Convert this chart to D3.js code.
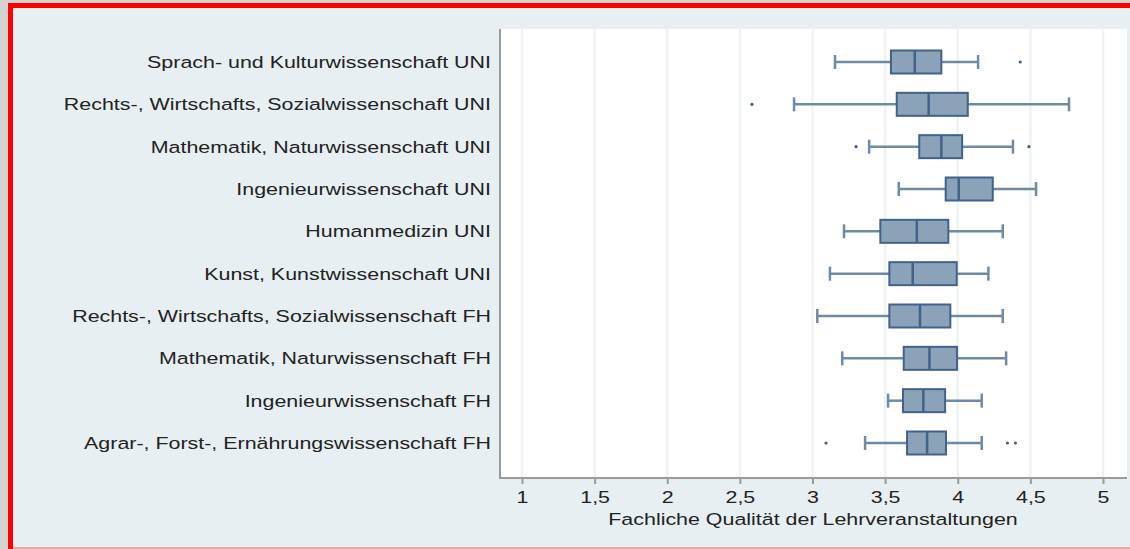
<!DOCTYPE html>
<html>
<head>
<meta charset="utf-8">
<script src="https://cdn.jsdelivr.net/npm/d3@7"></script>
<style>
  html, body { margin: 0; padding: 0; background: #d3d3cf; }
  svg { display: block; }
  text { font-family: "Liberation Sans", Arial, sans-serif; fill: #222; }
</style>
</head>
<body>
<svg id="chart" width="1130" height="549"></svg>
<script>
// Fields of study (top to bottom)
const categories = [
  "Sprach- und Kulturwissenschaft UNI",
  "Rechts-, Wirtschafts, Sozialwissenschaft UNI",
  "Mathematik, Naturwissenschaft UNI",
  "Ingenieurwissenschaft UNI",
  "Humanmedizin UNI",
  "Kunst, Kunstwissenschaft UNI",
  "Rechts-, Wirtschafts, Sozialwissenschaft FH",
  "Mathematik, Naturwissenschaft FH",
  "Ingenieurwissenschaft FH",
  "Agrar-, Forst-, Ernährungswissenschaft FH"
];
// Box plot statistics per field
const whiskerLow  = [3.155, 2.873, 3.390, 3.594, 3.217, 3.120, 3.033, 3.205, 3.520, 3.362];
const quartile1   = [3.540, 3.580, 3.735, 3.917, 3.467, 3.529, 3.529, 3.628, 3.623, 3.651];
const medians     = [3.704, 3.800, 3.887, 4.007, 3.718, 3.690, 3.740, 3.805, 3.763, 3.789];
const quartile3   = [3.887, 4.069, 4.030, 4.241, 3.935, 3.993, 3.949, 3.995, 3.913, 3.919];
const whiskerHigh = [4.140, 4.766, 4.380, 4.539, 4.310, 4.211, 4.310, 4.333, 4.165, 4.165];
const outliers    = [[4.430], [2.583], [3.300, 4.490], [], [], [], [], [], [], [3.093, 4.342, 4.397]];
// Axis ticks
const xTicks = [1, 1.5, 2, 2.5, 3, 3.5, 4, 4.5, 5];
const xTitle = "Fachliche Qualität der Lehrveranstaltungen";

const svg = d3.select("#chart");
const fontSize = 17;
const stretch = "scale(1.26,1)";   // wide lettering of the exported graph

// Frame: red border and light panel
svg.append("rect").attr("x", 8).attr("y", 3).attr("width", 1130).attr("height", 546).attr("fill", "#ff0000");
svg.append("rect").attr("x", 13).attr("y", 8).attr("width", 1117).attr("height", 539).attr("fill", "#e7eff2");
svg.append("rect").attr("x", 13).attr("y", 547).attr("width", 1117).attr("height", 2).attr("fill", "#f4a3a3");

const plot = { left: 501, right: 1127, top: 29, bottom: 477 };

const x = d3.scaleLinear().domain([1, 5]).range([522, 1103]);
const y = d3.scalePoint().domain(categories).range([62, 443]);

const rows = categories.map((c, i) => ({
  cat: c, lo: whiskerLow[i], q1: quartile1[i], med: medians[i],
  q3: quartile3[i], hi: whiskerHigh[i], out: outliers[i]
}));

// Plot area
svg.append("rect")
  .attr("x", plot.left).attr("y", plot.top)
  .attr("width", plot.right - plot.left).attr("height", plot.bottom - plot.top)
  .attr("fill", "#ffffff");

// Vertical grid lines
svg.append("g").selectAll("line").data(xTicks).join("line")
  .attr("x1", d => x(d)).attr("x2", d => x(d))
  .attr("y1", plot.top).attr("y2", plot.bottom)
  .attr("stroke", "#eef4f6").attr("stroke-width", 2.5);

// Boxes
const boxH = 23, capH = 14;
const g = svg.append("g").selectAll("g").data(rows).join("g")
  .attr("transform", d => `translate(0,${y(d.cat)})`);

g.append("line")
  .attr("x1", d => x(d.lo)).attr("x2", d => x(d.q1))
  .attr("stroke", "#6f8aa4").attr("stroke-width", 2.5);
g.append("line")
  .attr("x1", d => x(d.q3)).attr("x2", d => x(d.hi))
  .attr("stroke", "#6f8aa4").attr("stroke-width", 2.5);
g.append("line")
  .attr("x1", d => x(d.lo)).attr("x2", d => x(d.lo))
  .attr("y1", -capH / 2).attr("y2", capH / 2)
  .attr("stroke", "#6f8aa4").attr("stroke-width", 2.5);
g.append("line")
  .attr("x1", d => x(d.hi)).attr("x2", d => x(d.hi))
  .attr("y1", -capH / 2).attr("y2", capH / 2)
  .attr("stroke", "#6f8aa4").attr("stroke-width", 2.5);
g.append("rect")
  .attr("x", d => x(d.q1)).attr("width", d => x(d.q3) - x(d.q1))
  .attr("y", -boxH / 2).attr("height", boxH)
  .attr("fill", "#8ba2b8").attr("stroke", "#42628a").attr("stroke-width", 2);
g.append("line")
  .attr("x1", d => x(d.med)).attr("x2", d => x(d.med))
  .attr("y1", -boxH / 2).attr("y2", boxH / 2)
  .attr("stroke", "#42628a").attr("stroke-width", 2.5);
g.selectAll("circle").data(d => d.out).join("circle")
  .attr("cx", d => x(d)).attr("cy", 0).attr("r", 1.6)
  .attr("fill", "#3f5f82");

// Category labels
svg.append("g").selectAll("g").data(categories).join("g")
  .attr("transform", d => `translate(491,${y(d)}) ${stretch}`)
  .append("text")
  .attr("dy", "0.35em")
  .attr("text-anchor", "end").attr("font-size", fontSize)
  .text(d => d);

// Axis lines
svg.append("line")
  .attr("x1", plot.left - 1).attr("x2", plot.left - 1)
  .attr("y1", plot.top).attr("y2", plot.bottom + 1)
  .attr("stroke", "#9a9a9a").attr("stroke-width", 2);
svg.append("line")
  .attr("x1", plot.left - 2).attr("x2", plot.right)
  .attr("y1", plot.bottom + 1).attr("y2", plot.bottom + 1)
  .attr("stroke", "#9a9a9a").attr("stroke-width", 2);

// X axis ticks and labels
const fmt = d => String(d).replace(".", ",");
const xAxis = svg.append("g").attr("transform", `translate(0,${plot.bottom + 1})`)
  .call(d3.axisBottom(x).tickValues(xTicks).tickFormat(fmt).tickSize(6).tickPadding(7));
xAxis.select(".domain").remove();
xAxis.selectAll(".tick line").attr("stroke", "#9a9a9a").attr("stroke-width", 2);
xAxis.selectAll(".tick text")
  .attr("font-size", fontSize).attr("font-family", "Liberation Sans, Arial, sans-serif")
  .attr("fill", "#222").attr("transform", stretch);

svg.append("g").attr("transform", `translate(813,525) ${stretch}`)
  .append("text")
  .attr("text-anchor", "middle").attr("font-size", fontSize)
  .text(xTitle);
</script>
</body>
</html>
